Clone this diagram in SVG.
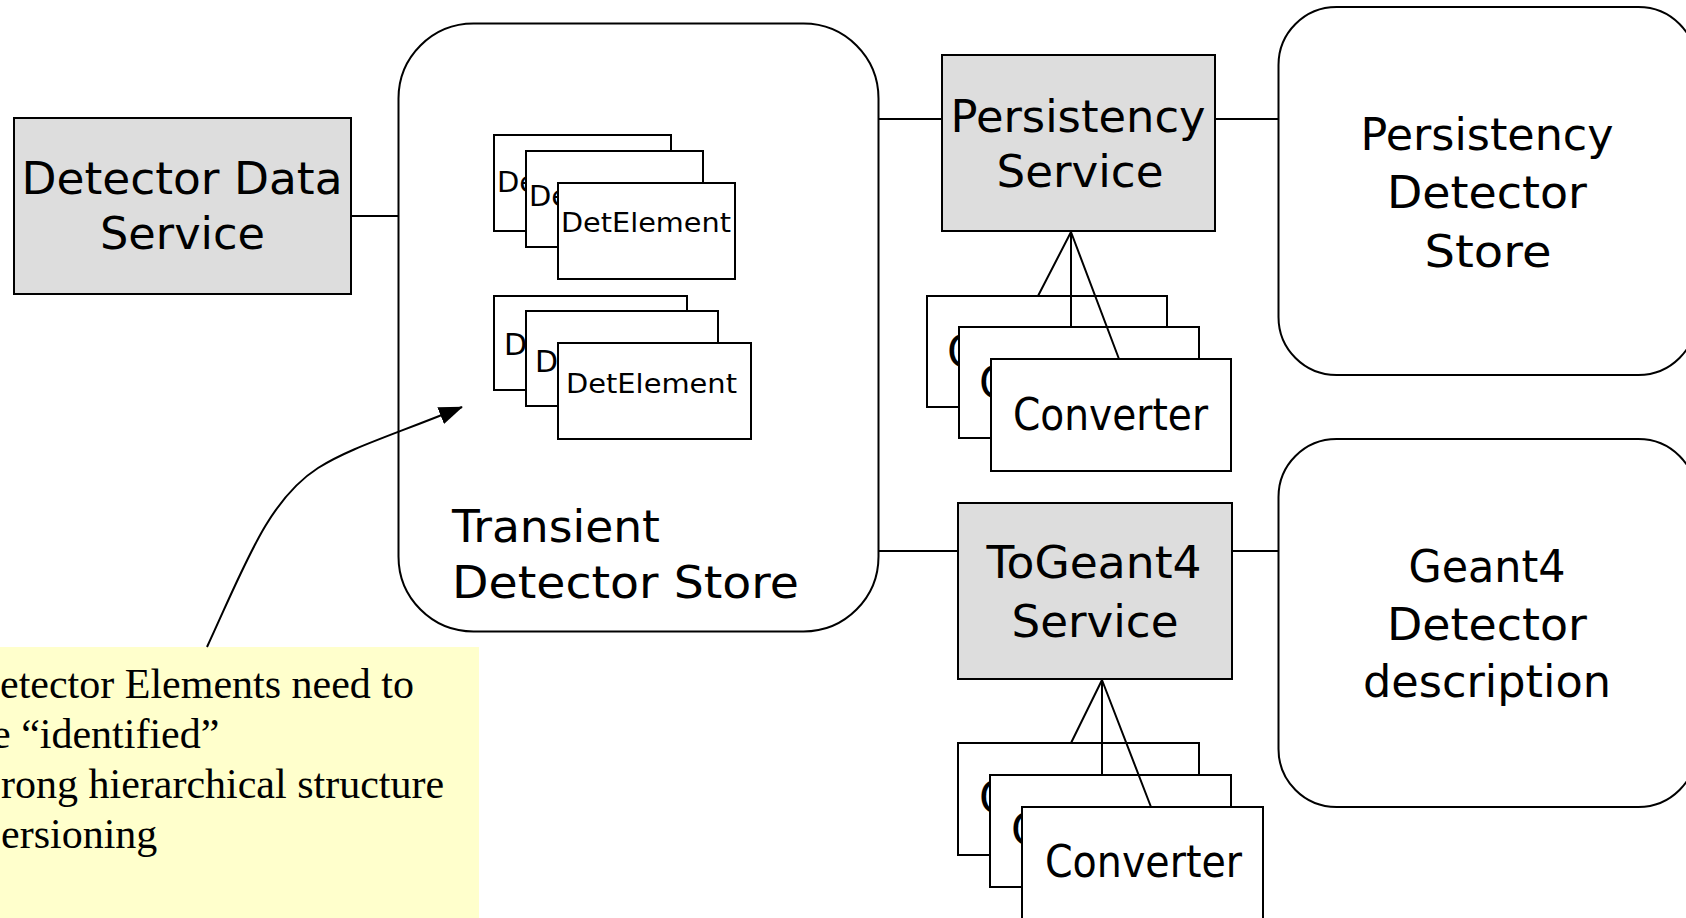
<svg xmlns="http://www.w3.org/2000/svg" width="1686" height="918" viewBox="0 0 1686 918">
<style>
.box{fill:#ffffff;stroke:#000;stroke-width:2}
.svc{fill:#dddddd;stroke:#000;stroke-width:2}
.ln{fill:none;stroke:#000;stroke-width:2}
.t{font-family:"DejaVu Sans","Liberation Sans",sans-serif;fill:#000}
.c{text-anchor:middle}
.big{font-size:44px}
.sm{font-size:26px}
.note{font-family:"Liberation Serif","Times New Roman",serif;font-size:42px;fill:#000}
</style>
<defs>
<marker id="ah" markerWidth="24" markerHeight="18" refX="23" refY="9" orient="auto" markerUnits="userSpaceOnUse" viewBox="0 0 24 18">
<path d="M0,0 L24,9 L0,18 Z" fill="#000"/>
</marker>
</defs>
<rect width="1686" height="918" fill="#ffffff"/>

<g id="callout">
<rect x="-4" y="647" width="483" height="280" fill="#ffffcc"/>
<text class="note" x="0" y="698">etector Elements need to</text>
<text class="note" x="-8" y="748">e “identified”</text>
<text class="note" x="1" y="798">rong hierarchical structure</text>
<text class="note" x="1" y="848">ersioning</text>
</g>

<g id="detector-data-service">
<rect class="svc" x="14" y="118" width="337" height="176"/>
<text class="t big c" x="182" y="194" textLength="321" lengthAdjust="spacingAndGlyphs">Detector Data</text>
<text class="t big c" x="182.5" y="249" textLength="165" lengthAdjust="spacingAndGlyphs">Service</text>
</g>

<g id="transient-store">
<rect class="box" x="398.5" y="23.5" width="480" height="608" rx="75" ry="75"/>
<text class="t big" x="452" y="542" textLength="208" lengthAdjust="spacingAndGlyphs">Transient</text>
<text class="t big" x="452" y="598" textLength="347" lengthAdjust="spacingAndGlyphs">Detector Store</text>
</g>

<g id="detelements-1">
<rect class="box" x="494" y="135" width="177" height="96"/>
<text class="t" font-size="29" x="497" y="192">De</text>
<rect class="box" x="526" y="151" width="177" height="96"/>
<text class="t" font-size="29" x="529" y="206">De</text>
<rect class="box" x="558" y="183" width="177" height="96"/>
<text class="t sm" x="561" y="232" textLength="170" lengthAdjust="spacingAndGlyphs">DetElement</text>
</g>

<g id="detelements-2">
<rect class="box" x="494" y="296" width="193" height="94"/>
<text class="t" font-size="30" x="504" y="355">D</text>
<rect class="box" x="526" y="311" width="192" height="95"/>
<text class="t" font-size="30" x="535" y="372">D</text>
<rect class="box" x="558" y="343" width="193" height="96"/>
<text class="t sm" x="566" y="393" textLength="171" lengthAdjust="spacingAndGlyphs">DetElement</text>
</g>

<g id="persistency-service">
<rect class="svc" x="942" y="55" width="273" height="176"/>
<text class="t big c" x="1078" y="132" textLength="255" lengthAdjust="spacingAndGlyphs">Persistency</text>
<text class="t big c" x="1080" y="187" textLength="167" lengthAdjust="spacingAndGlyphs">Service</text>
</g>

<g id="converters-1">
<rect class="box" x="927" y="296" width="240" height="111"/>
<text class="t big" x="947" y="367">C</text>
<rect class="box" x="959" y="327" width="240" height="111"/>
<text class="t big" x="979" y="398">C</text>
<rect class="box" x="991" y="359" width="240" height="112"/>
<text class="t big" x="1013" y="430" textLength="195" lengthAdjust="spacingAndGlyphs">Converter</text>
</g>

<g id="togeant4-service">
<rect class="svc" x="958" y="503" width="274" height="176"/>
<text class="t big c" x="1094" y="578" textLength="215" lengthAdjust="spacingAndGlyphs">ToGeant4</text>
<text class="t big c" x="1095" y="637" textLength="167" lengthAdjust="spacingAndGlyphs">Service</text>
</g>

<g id="converters-2">
<rect class="box" x="958" y="743" width="241" height="112"/>
<text class="t big" x="979" y="813">C</text>
<rect class="box" x="990" y="775" width="241" height="112"/>
<text class="t big" x="1011" y="845">C</text>
<rect class="box" x="1022" y="807" width="241" height="130"/>
<text class="t big" x="1045" y="877" textLength="197" lengthAdjust="spacingAndGlyphs">Converter</text>
</g>

<g id="persistency-detector-store">
<rect class="box" x="1278.5" y="7" width="418" height="368" rx="58" ry="58"/>
<text class="t big c" x="1487" y="150" textLength="253" lengthAdjust="spacingAndGlyphs">Persistency</text>
<text class="t big c" x="1487" y="208" textLength="200" lengthAdjust="spacingAndGlyphs">Detector</text>
<text class="t big c" x="1488" y="267" textLength="127" lengthAdjust="spacingAndGlyphs">Store</text>
</g>

<g id="geant4-detector-description">
<rect class="box" x="1278.5" y="439" width="418" height="368" rx="58" ry="58"/>
<text class="t big c" x="1487" y="582" textLength="157" lengthAdjust="spacingAndGlyphs">Geant4</text>
<text class="t big c" x="1487" y="640" textLength="200" lengthAdjust="spacingAndGlyphs">Detector</text>
<text class="t big c" x="1487" y="697" textLength="248" lengthAdjust="spacingAndGlyphs">description</text>
</g>

<g id="connectors">
<line class="ln" x1="351" y1="216" x2="398.5" y2="216"/>
<line class="ln" x1="878.5" y1="119" x2="942" y2="119"/>
<line class="ln" x1="1215" y1="119" x2="1278.5" y2="119"/>
<line class="ln" x1="878.5" y1="551" x2="958" y2="551"/>
<line class="ln" x1="1232" y1="551" x2="1278.5" y2="551"/>
<path class="ln" d="M1038,296 L1071,232 L1071,327 M1071,232 L1119,359"/>
<path class="ln" d="M1071,743 L1102,680 L1102,775 M1102,680 L1151,807"/>
<path class="ln" d="M207,647 C245,565 268,500 318,468 C350,448 385,438 462,407" marker-end="url(#ah)"/>
</g>
</svg>
